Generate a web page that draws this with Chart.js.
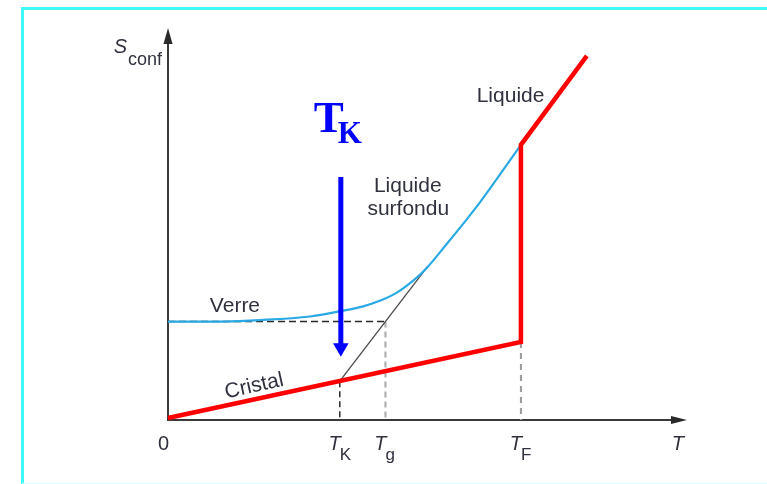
<!DOCTYPE html>
<html>
<head>
<meta charset="utf-8">
<script src="https://cdn.jsdelivr.net/npm/chart.js@4.4.0/dist/chart.umd.min.js"></script>
<style>
html, body { margin: 0; padding: 0; background: #fff; }
</style>
</head>
<body>
<canvas id="sconfChart" width="767" height="484"></canvas>
<script>
// temperatures on the T axis (arbitrary units, axis runs 0..100)
let T_K = 33.1;
let T_g = 41.9;
let T_F = 68.0;

// S_conf values (arbitrary units, axis runs 0..100)
let cristalX = [0, T_F];
let cristalY = [0.5, 19.9];
let liquideX = [T_F, T_F, 80.7];
let liquideY = [19.9, 70.2, 92.9];
let verreX = [0, 8, 17.7, 27.4, 33.8, 37.6, 40.8, 44.1, 47.3, 49.8, 53.7, 56.9, 60.1, T_F];
let verreY = [25.1, 25.1, 25.5, 26.4, 27.9, 29.0, 30.4, 32.5, 35.6, 38.7, 44.9, 50.1, 55.5, 70.2];
let sVerre = 25.1;
let sCristalTK = 9.9;
let extrapX = [T_K, 50.0];
let extrapY = [sCristalTK, 39.1];
let arrowX = 33.3;
let arrowY = [62.0, 18.4];

// tick labels under the T axis
let tickValues = [0, T_K, T_g, T_F];
let tickMain = ['0', 'T', 'T', 'T'];
let tickSub = ['', 'K', 'g', 'F'];

function pts(xs, ys) {
    return xs.map((x, i) => ({x: x, y: ys[i]}));
}

const textColor = '#30313f';

// frame, axes with arrows, labels
const decorPlugin = {
    id: 'decor',
    beforeDatasetsDraw(chart) {
        const ctx = chart.ctx;
        const xs = chart.scales.x, ys = chart.scales.y;
        ctx.save();
        // cyan frame
        ctx.strokeStyle = '#3ff8f8';
        ctx.lineWidth = 3;
        ctx.beginPath();
        ctx.moveTo(767, 8.5);
        ctx.lineTo(22.5, 8.5);
        ctx.lineTo(22.5, 484);
        ctx.stroke();
        ctx.strokeStyle = '#d4ffff';
        ctx.lineWidth = 1;
        ctx.beginPath();
        ctx.moveTo(22, 483.5);
        ctx.lineTo(767, 483.5);
        ctx.stroke();

        // axes
        const x0 = xs.getPixelForValue(0), y0 = ys.getPixelForValue(0);
        const xEnd = xs.getPixelForValue(100), yEnd = ys.getPixelForValue(100);
        ctx.strokeStyle = '#3a3a3a';
        ctx.fillStyle = '#2a2a2a';
        ctx.lineWidth = 2;
        ctx.beginPath();
        ctx.moveTo(x0, yEnd + 10);
        ctx.lineTo(x0, y0);
        ctx.lineTo(xEnd - 10, y0);
        ctx.stroke();
        ctx.beginPath();
        ctx.moveTo(x0, yEnd);
        ctx.lineTo(x0 - 4.5, yEnd + 16);
        ctx.lineTo(x0 + 4.5, yEnd + 16);
        ctx.closePath();
        ctx.fill();
        ctx.beginPath();
        ctx.moveTo(xEnd, y0);
        ctx.lineTo(xEnd - 16, y0 - 4);
        ctx.lineTo(xEnd - 16, y0 + 4);
        ctx.closePath();
        ctx.fill();
        ctx.restore();
    },
    afterDatasetsDraw(chart) {
        const ctx = chart.ctx;
        const xs = chart.scales.x, ys = chart.scales.y;
        const px = v => xs.getPixelForValue(v);
        const py = v => ys.getPixelForValue(v);
        const x0 = px(0), y0 = py(0);
        ctx.save();
        ctx.fillStyle = textColor;
        ctx.textBaseline = 'alphabetic';

        // tick labels
        tickValues.forEach((v, i) => {
            const x = px(v);
            ctx.textAlign = 'right';
            ctx.font = (tickSub[i] ? 'italic ' : '') + '20px "Liberation Sans", Arial, sans-serif';
            ctx.fillText(tickMain[i], x + 1, y0 + 30);
            if (tickSub[i]) {
                ctx.textAlign = 'left';
                ctx.font = '17px "Liberation Sans", Arial, sans-serif';
                ctx.fillText(tickSub[i], x, y0 + 40);
            }
        });

        // axis titles
        ctx.textAlign = 'right';
        ctx.font = 'italic 20px "Liberation Sans", Arial, sans-serif';
        ctx.fillText('T', px(100) - 3, y0 + 30);
        ctx.font = '18px "Liberation Sans", Arial, sans-serif';
        ctx.fillText('conf', x0 - 6, py(100) + 37);
        ctx.font = 'italic 20px "Liberation Sans", Arial, sans-serif';
        ctx.fillText('S', x0 - 41, py(100) + 25);

        // curve labels
        ctx.font = '21px "Liberation Sans", Arial, sans-serif';
        ctx.textAlign = 'center';
        ctx.fillText('Liquide', px(66.0), py(81.2));
        ctx.fillText('Liquide', px(46.2), py(58.2));
        ctx.fillText('surfondu', px(46.3), py(52.3));
        ctx.fillText('Verre', px(12.9), py(27.6));

        ctx.save();
        ctx.translate(px(16.6), py(8.6));
        ctx.rotate(-12.5 * Math.PI / 180);
        ctx.textBaseline = 'middle';
        ctx.fillText('Cristal', 0, 0);
        ctx.restore();

        // big blue T_K
        ctx.fillStyle = '#0000ff';
        ctx.textAlign = 'left';
        ctx.font = 'bold 45px "Liberation Serif", "Times New Roman", serif';
        ctx.fillText('T', px(28.1), py(73.5));
        ctx.font = 'bold 31px "Liberation Serif", "Times New Roman", serif';
        ctx.fillText('K', px(32.7), py(70.6));
        ctx.restore();
    }
};

let ctx = document.getElementById('sconfChart').getContext('2d');

let sconfChart = new Chart(ctx, {
    type: 'scatter',
    data: {
        datasets: [
            {
                // blue arrow pointing at T_K
                data: pts([arrowX, arrowX], arrowY),
                showLine: true,
                borderColor: '#0000ff',
                borderWidth: 5,
                borderCapStyle: 'butt',
                pointRadius: [0, 9],
                pointStyle: 'triangle',
                rotation: 180,
                pointBackgroundColor: '#0000ff',
                pointBorderWidth: 0,
                clip: false
            },
            {
                // crystal + melting + liquid
                data: pts(cristalX.concat(liquideX), cristalY.concat(liquideY)),
                showLine: true,
                borderColor: '#ff0000',
                borderWidth: 4.5,
                borderJoinStyle: 'miter',
                pointRadius: 0,
                clip: false
            },
            {
                // glass / supercooled liquid
                data: pts(verreX, verreY),
                showLine: true,
                cubicInterpolationMode: 'monotone',
                borderColor: '#2aa9e4',
                borderWidth: 2.2,
                pointRadius: 0,
                clip: false
            },
            {
                // extrapolated liquid line down to T_K
                data: pts(extrapX, extrapY),
                showLine: true,
                borderColor: '#4a4a4a',
                borderWidth: 1.3,
                pointRadius: 0,
                clip: false
            },
            {
                data: pts([0, T_g], [sVerre, sVerre]),
                showLine: true,
                borderColor: '#2a2a2a',
                borderWidth: 1.5,
                borderDash: [7, 4],
                pointRadius: 0,
                clip: false
            },
            {
                data: pts([T_K, T_K], [sCristalTK, 0]),
                showLine: true,
                borderColor: '#2a2a2a',
                borderWidth: 1.5,
                borderDash: [6, 4],
                pointRadius: 0,
                clip: false
            },
            {
                data: pts([T_g, T_g], [sVerre, 0]),
                showLine: true,
                borderColor: '#b0b0b0',
                borderWidth: 2.2,
                borderDash: [6, 4],
                pointRadius: 0,
                clip: false
            },
            {
                data: pts([T_F, T_F], [cristalY[1], 0]),
                showLine: true,
                borderColor: '#9a9a9a',
                borderWidth: 2,
                borderDash: [6, 5],
                pointRadius: 0,
                clip: false
            }
        ]
    },
    options: {
        responsive: false,
        animation: false,
        devicePixelRatio: 1,
        layout: { padding: { left: 168, right: 80, top: 28, bottom: 64 } },
        scales: {
            x: { type: 'linear', min: 0, max: 100, display: false },
            y: { type: 'linear', min: 0, max: 100, display: false }
        },
        plugins: {
            legend: { display: false },
            tooltip: { enabled: false }
        }
    },
    plugins: [decorPlugin]
});
</script>
</body>
</html>
